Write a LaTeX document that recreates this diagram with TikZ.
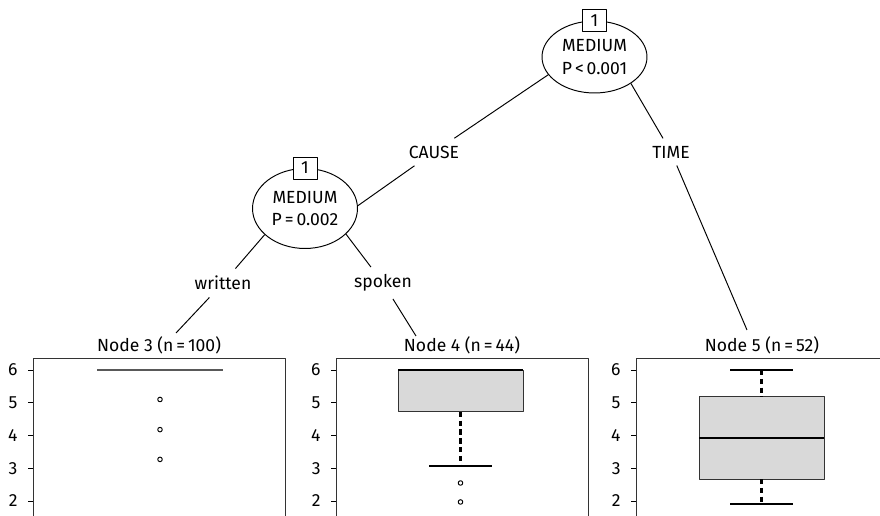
\documentclass[tikz,border=0pt]{standalone}
\usepackage{fontspec}
\setmainfont{Fira Sans}
\usetikzlibrary{shapes.geometric}
\begin{document}
\begin{tikzpicture}[x=0.02cm,y=-0.02cm,line join=round,line width=0.55pt,font=\fontsize{10}{13}\selectfont]
	\tikzset{declare function={yv(\v)=370+32.75*(6-\v);},
		split/.style={draw,ellipse,minimum width=2.1cm,minimum height=1.5cm,align=center,inner sep=0pt},
		idbox/.style={draw,fill=white,minimum width=0.48cm,minimum height=0.44cm,inner sep=0pt},
		lab/.style={inner sep=4pt},
		gbox/.style={draw=black!80,fill=black!15},
		whisk/.style={dash pattern=on 3pt off 2pt,line width=1.4pt},
		wend/.style={line width=1.3pt}}
	\useasboundingbox (0,0) rectangle (880,516);
	\clip (0,0) rectangle (880,516);
	\node[split,minimum height=1.44cm] (top) at (594.5,57) {MEDIUM\\P\,<\,0.001};
	\node[split,minimum height=1.6cm] (mid) at (305,208.5) {MEDIUM\\P\,=\,0.002};
	\node[idbox] (id1) at (top.north) {1};
	\node[idbox] (id2) at (mid.north) {1};
	\node[lab] (lcause) at (434,152) {CAUSE};
	\node[lab] (ltime) at (671,152) {TIME};
	\node[lab] (lwr) at (223,283) {written};
	\node[lab] (lsp) at (383,283) {spoken};
	\foreach \px/\nm/\nn in {33/3/100,336/4/44,636/5/52}{
		\draw[black!80] (\px,358) rectangle (\px+252,530);
		\node (t\nm) at (\px+126,345) {Node \nm\ (n\,=\,\nn)};
		\foreach \v in {2,...,6}{
			\draw (\px-5,{yv(\v)}) -- (\px,{yv(\v)});
			\node[anchor=east,inner sep=0pt] (k\nm\v) at (\px-15,{yv(\v)}) {\v};
		}
	}
	\coordinate (e3) at (176,333);
	\coordinate (e4) at (416,336);
	\coordinate (e5) at (747,330);
	\draw (top.201) -- (lcause) -- (mid.3);
	\draw (top.324) -- (ltime) -- (e5);
	\draw (mid.213) -- (lwr) -- (e3);
	\draw (mid.328) -- (lsp) -- (e4);
	% Node 3
	\draw[black!65,line width=1pt] (97,{yv(6)}) -- (223,{yv(6)});
	\foreach \v in {5.1,4.18,3.27} \draw (160,{yv(\v)}) circle (1.3pt);
	% Node 4
	\draw[gbox] (398,{yv(6)}) rectangle (523,{yv(4.72)});
	\draw[line width=1.6pt] (398,{yv(6)}) -- (523,{yv(6)});
	\draw[whisk] (460.5,{yv(4.72)}) -- (460.5,{yv(3.07)});
	\draw[wend] (429,{yv(3.07)}) -- (492,{yv(3.07)});
	\foreach \v in {2.55,1.97} \draw (460.5,{yv(\v)}) circle (1.3pt);
	% Node 5
	\draw[gbox] (699,{yv(5.18)}) rectangle (824,{yv(2.67)});
	\draw[line width=1.3pt] (699,{yv(3.92)}) -- (824,{yv(3.92)});
	\draw[whisk] (761.5,{yv(6)}) -- (761.5,{yv(5.18)});
	\draw[whisk] (761.5,{yv(2.67)}) -- (761.5,{yv(1.91)});
	\foreach \v in {6,1.91} \draw[wend] (730,{yv(\v)}) -- (793,{yv(\v)});
\end{tikzpicture}
\end{document}
